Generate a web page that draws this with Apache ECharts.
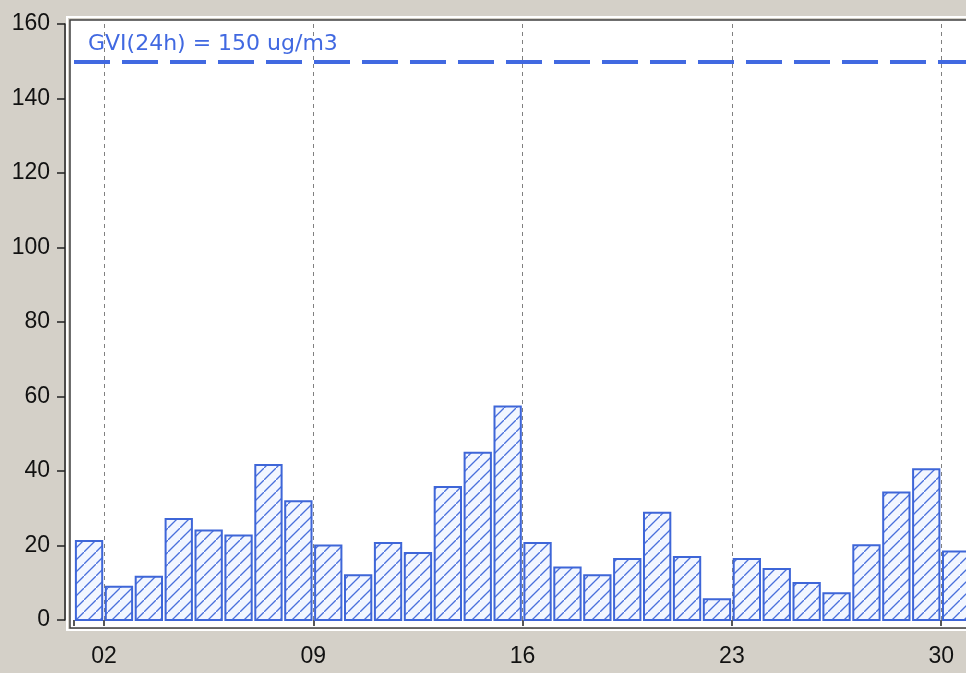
<!DOCTYPE html>
<html>
<head>
<meta charset="utf-8">
<script src="https://cdn.jsdelivr.net/npm/echarts@6/dist/echarts.min.js"></script>
<style>
  html, body { margin: 0; padding: 0; background: #d4d0c8; }
  #main { width: 966px; height: 673px; }
</style>
</head>
<body>
<div id="main"></div>
<script>
// daily PM10 means, one bar per day
const days = [1, 2, 3, 4, 5, 6, 7, 8, 9, 10, 11, 12, 13, 14, 15,
              16, 17, 18, 19, 20, 21, 22, 23, 24, 25, 26, 27, 28, 29, 30];
const pm10 = [21.2, 8.9, 11.6, 27.1, 24.0, 22.7, 41.6, 31.9, 20.0, 12.0,
              20.7, 18.0, 35.7, 44.9, 57.3, 20.7, 14.1, 12.0, 16.4, 28.8,
              16.9, 5.6, 16.4, 13.7, 9.9, 7.2, 20.1, 34.2, 40.5, 18.4];
const labelDays = [2, 9, 16, 23, 30];
const yMax = 160;
const yStep = 20;
const limitValue = 150;
const limitText = 'GVI(24h) = 150 ug/m3';

const firstLabelDay = labelDays[0];   // x axis counts days from the first labelled one
const blue = '#3e66d8';
const axisColor = '#202020';
const labelFont = { color: '#111', fontFamily: 'Liberation Sans', fontSize: 23 };

function hatchTile() {
  const c = document.createElement('canvas');
  c.width = 12; c.height = 12;
  const g = c.getContext('2d');
  g.fillStyle = '#f2f6ff';
  g.fillRect(0, 0, 12, 12);
  g.strokeStyle = '#4a70dc';
  g.lineWidth = 1.3;
  g.beginPath();
  g.moveTo(-2, 14);
  g.lineTo(14, -2);
  g.stroke();
  return c;
}
const hatch = { image: hatchTile(), repeat: 'repeat' };

const chart = echarts.init(document.getElementById('main'));

const option = {
  animation: false,
  backgroundColor: '#d4d0c8',
  grid: [
    // sunken panel: white highlight, then dark edge
    { left: 67, top: 17, right: -60, bottom: 43, show: true, backgroundColor: 'transparent',
      borderColor: '#ffffff', borderWidth: 2, outerBoundsMode: 'none' },
    { left: 70, top: 20, right: -50, bottom: 45, show: true, backgroundColor: '#ffffff',
      borderColor: '#404040', borderWidth: 1.5, outerBoundsMode: 'none' },
    // data area, starting at the first labelled day
    { left: 104, top: 24, right: -35, bottom: 53, outerBoundsMode: 'none' },
    // same area from the start of day 1, for the limit line
    { left: 74, top: 24, right: -35, bottom: 53, outerBoundsMode: 'none' }
  ],
  xAxis: [
    { gridIndex: 0, type: 'value', show: false },
    { gridIndex: 1, type: 'value', show: false },
    {
      gridIndex: 2,
      type: 'value',
      min: 0,
      max: 30,
      interval: 7,
      offset: 8,
      axisLine: { show: false },
      axisTick: { show: true, length: 6, lineStyle: { color: axisColor, width: 1.5 } },
      axisLabel: Object.assign({
        margin: 17,
        formatter: v => labelDays.includes(v + firstLabelDay) ? String(v + firstLabelDay).padStart(2, '0') : ''
      }, labelFont),
      splitLine: {
        show: true,
        showMaxLine: false,
        lineStyle: { color: '#808080', width: 1, type: [4, 4] }
      }
    },
    {
      gridIndex: 3,
      type: 'value',
      min: 0,
      max: 1,
      interval: 1,
      offset: 8,
      axisLine: { show: false },
      axisTick: { show: true, length: 6, lineStyle: { color: axisColor, width: 1.5 } },
      axisLabel: { show: false },
      splitLine: { show: false }
    }
  ],
  yAxis: [
    { gridIndex: 0, type: 'value', show: false },
    { gridIndex: 1, type: 'value', show: false },
    {
      gridIndex: 2,
      type: 'value',
      min: 0,
      max: yMax,
      interval: yStep,
      offset: 39,
      axisLine: { show: true, onZero: false, lineStyle: { color: axisColor, width: 1.5 } },
      axisTick: { show: true, length: 8, lineStyle: { color: axisColor, width: 1.5 } },
      axisLabel: Object.assign({ margin: 15 }, labelFont),
      splitLine: { show: false }
    },
    { gridIndex: 3, type: 'value', min: 0, max: yMax, show: false }
  ],
  series: [
    {
      type: 'custom',
      xAxisIndex: 2,
      yAxisIndex: 2,
      data: days.map((d, i) => [d, pm10[i]]),
      encode: { x: 0, y: 1 },
      renderItem: function (params, api) {
        const x = api.value(0) - firstLabelDay;
        const topLeft = api.coord([x + 0.06, api.value(1)]);
        const bottomRight = api.coord([x + 0.94, 0]);
        return {
          type: 'rect',
          shape: {
            x: topLeft[0],
            y: topLeft[1],
            width: bottomRight[0] - topLeft[0],
            height: bottomRight[1] - topLeft[1]
          },
          style: { fill: hatch, stroke: blue, lineWidth: 2 }
        };
      },
      z: 3
    },
    {
      type: 'line',
      xAxisIndex: 3,
      yAxisIndex: 3,
      data: [],
      z: 4,
      markLine: {
        silent: true,
        symbol: 'none',
        lineStyle: { color: '#4169e1', width: 4, type: [36, 12] },
        label: {
          show: true,
          position: 'insideStartTop',
          distance: [14, 6],
          formatter: limitText,
          color: '#4169e1',
          fontFamily: 'DejaVu Sans',
          fontSize: 22
        },
        data: [{ yAxis: limitValue }]
      }
    }
  ]
};

chart.setOption(option);
</script>
</body>
</html>
